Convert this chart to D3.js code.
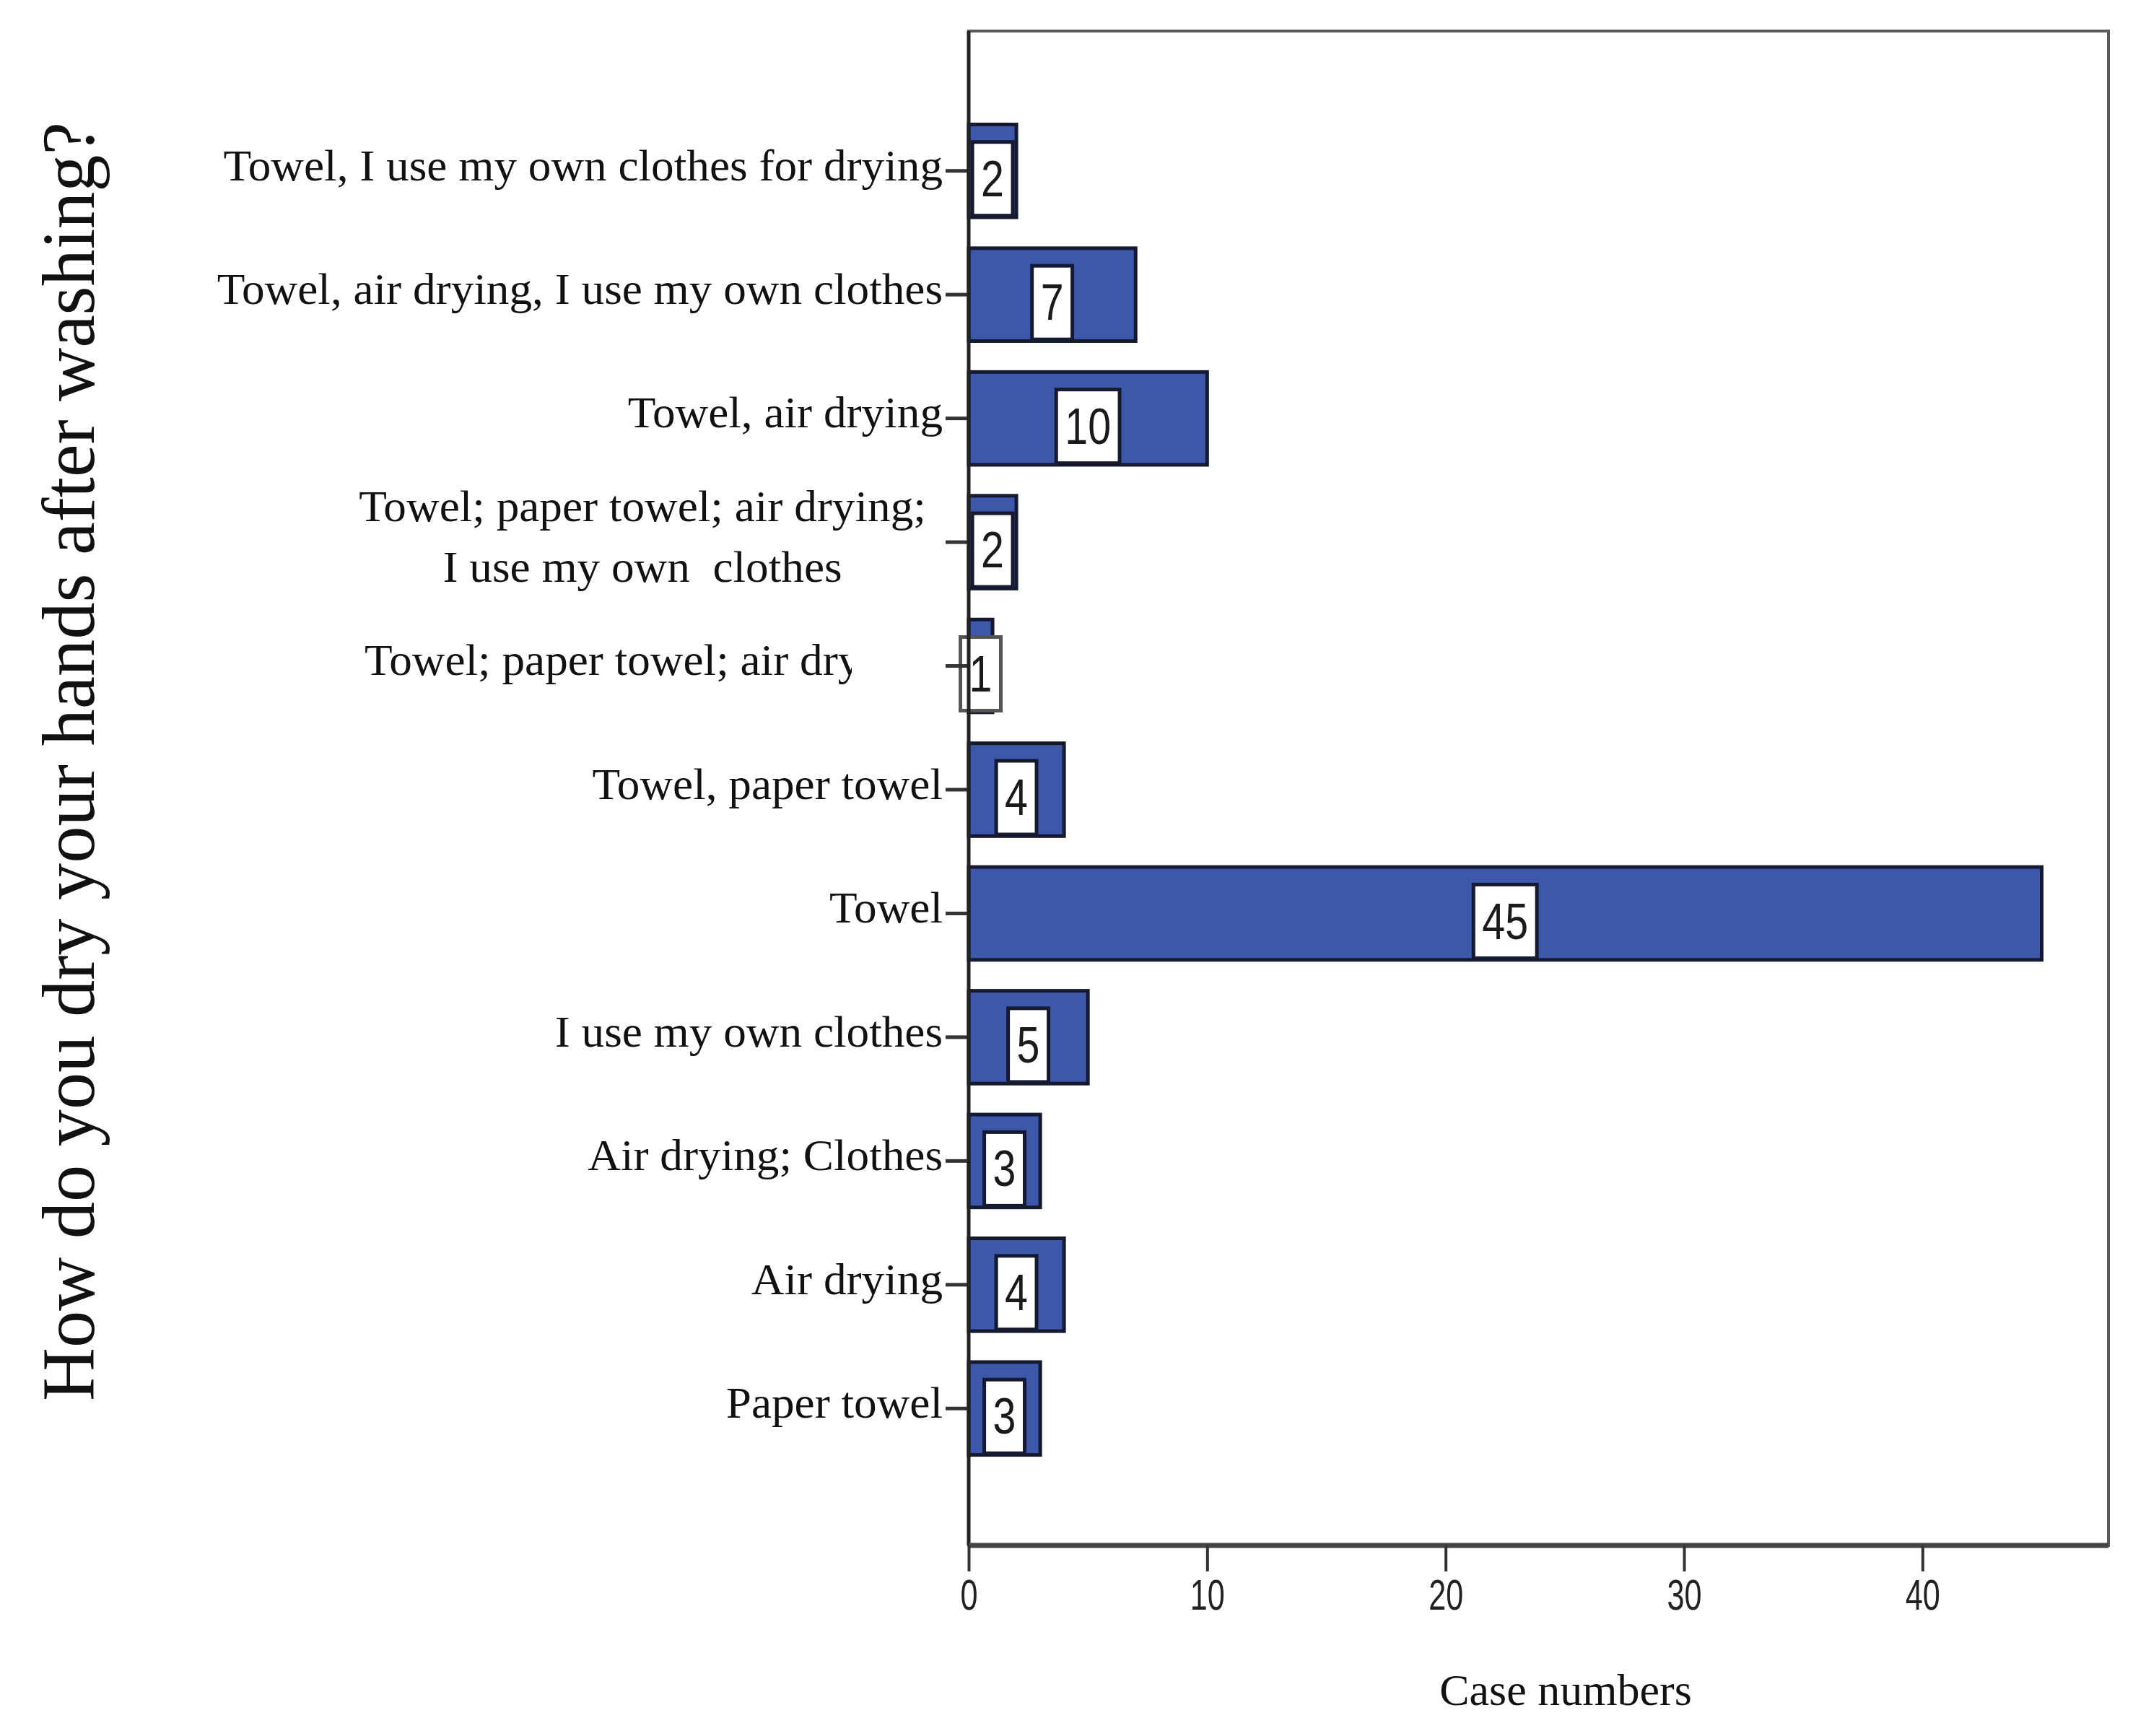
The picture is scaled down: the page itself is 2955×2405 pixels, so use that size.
<!DOCTYPE html>
<html>
<head>
<meta charset="utf-8">
<script src="https://cdn.jsdelivr.net/npm/d3@7"></script>
<style>
  html, body { margin: 0; padding: 0; background: #ffffff; }
  svg { display: block; }
</style>
</head>
<body>
<script>
// ---- data ----
const categories = [
  "Towel, I use my own clothes for drying",
  "Towel, air drying, I use my own clothes",
  "Towel, air drying",
  "Towel; paper towel; air drying; I use my own clothes",
  "Towel; paper towel; air drying",
  "Towel, paper towel",
  "Towel",
  "I use my own clothes",
  "Air drying; Clothes",
  "Air drying",
  "Paper towel"
];
const values = [2, 7, 10, 2, 1, 4, 45, 5, 3, 4, 3];
const labelLines = [
  ["Towel, I use my own clothes for drying"],
  ["Towel, air drying, I use my own clothes"],
  ["Towel, air drying"],
  ["Towel; paper towel; air drying;", "I use my own  clothes"],
  ["Towel; paper towel; air drying"],
  ["Towel, paper towel"],
  ["Towel"],
  ["I use my own clothes"],
  ["Air drying; Clothes"],
  ["Air drying"],
  ["Paper towel"]
];
const xTicks = [0, 10, 20, 30, 40];
const xTitle = "Case numbers";
const yTitle = "How do you dry your hands after washing?";

// ---- layout ----
const W = 2955, H = 2405;
const frame = { left: 1342, right: 2921, top: 43, bottom: 2141 };
const serif = "'Liberation Serif', 'Times New Roman', serif";
const sans = "'Liberation Sans Narrow', 'Liberation Sans', Arial, sans-serif";

const svg = d3.select("body").append("svg").attr("width", W).attr("height", H);

const x = d3.scaleLinear().domain([0, 47.8]).range([frame.left, frame.right]);
const y = d3.scaleBand().domain(categories).range([151, 2037]).paddingInner(0.25).paddingOuter(0.125);

// frame (top/right)
svg.append("rect")
  .attr("x", frame.left).attr("y", frame.top)
  .attr("width", frame.right - frame.left).attr("height", frame.bottom - frame.top)
  .attr("fill", "none").attr("stroke", "#5a5a5a").attr("stroke-width", 4);

// bars
const bars = svg.append("g");
bars.selectAll("rect").data(categories).join("rect")
  .attr("x", x(0))
  .attr("y", d => y(d))
  .attr("width", (d, i) => x(values[i]) - x(0))
  .attr("height", y.bandwidth())
  .attr("fill", "#3d57ab")
  .attr("stroke", "#161a30")
  .attr("stroke-width", 5);

// value labels with boxes
const vl = svg.append("g");
categories.forEach((c, i) => {
  const cx = (x(0) + x(values[i])) / 2;
  const cy = y(c) + y.bandwidth() / 2 + 11;
  const g = vl.append("g").attr("transform", `translate(${cx},${cy})`);
  const rect = g.append("rect");
  const t = g.append("text")
    .attr("text-anchor", "middle")
    .attr("dominant-baseline", "central")
    .attr("font-family", sans)
    .attr("font-size", 70)
    .attr("fill", "#1a1a1a")
    .attr("transform", "scale(0.82,1)")
    .text(values[i]);
  const w = t.node().getComputedTextLength() * 0.82 + 24;
  const h = 102;
  rect.attr("x", -w / 2).attr("y", -h / 2).attr("width", w).attr("height", h)
    .attr("fill", "#ffffff").attr("stroke", values[i] === 1 ? "#555" : "#161a30").attr("stroke-width", 5);
});

// left axis
const yAxis = d3.axisLeft(y).tickSize(32).tickFormat("");
const gy = svg.append("g").attr("transform", `translate(${frame.left},0)`).call(yAxis);
gy.select(".domain").remove();
gy.selectAll(".tick line").attr("stroke", "#333").attr("stroke-width", 5);
svg.append("line")
  .attr("x1", frame.left).attr("x2", frame.left)
  .attr("y1", frame.top).attr("y2", frame.bottom)
  .attr("stroke", "#222").attr("stroke-width", 5);

// category labels
const defs = svg.append("defs");
defs.append("clipPath").attr("id", "clipTrunc").append("rect")
  .attr("x", 0).attr("y", 0).attr("width", 1180).attr("height", H);

const labelRight = 1306;
const labelScale = 1.02;
const cl = svg.append("g");
categories.forEach((c, i) => {
  const lines = labelLines[i];
  const cy = y(c) + y.bandwidth() / 2 - 8;
  if (lines.length === 1) {
    const holder = cl.append("g");
    const isTrunc = (i === 4);
    if (isTrunc) holder.attr("clip-path", "url(#clipTrunc)");
    holder.append("text")
      .attr("transform", `translate(${isTrunc ? 505 : labelRight},${cy}) scale(${labelScale},1)`)
      .attr("text-anchor", isTrunc ? "start" : "end")
      .attr("dominant-baseline", "central")
      .attr("font-family", serif)
      .attr("font-size", 62)
      .attr("fill", "#111")
      .text(lines[0]);
  } else {
    const mid = 890;
    lines.forEach((ln, k) => {
      cl.append("text")
        .attr("transform", `translate(${mid},${cy - 42 + k * 84}) scale(${labelScale},1)`)
        .attr("text-anchor", "middle")
        .attr("dominant-baseline", "central")
        .attr("font-family", serif)
        .attr("font-size", 62)
        .attr("fill", "#111")
        .attr("xml:space", "preserve")
        .style("white-space", "pre")
        .text(ln);
    });
  }
});

// bottom axis
const xAxis = d3.axisBottom(x).tickValues(xTicks).tickSize(36).tickFormat(d3.format("d"));
const gx = svg.append("g").attr("transform", `translate(0,${frame.bottom})`).call(xAxis);
gx.select(".domain").attr("stroke", "#444").attr("stroke-width", 7)
  .attr("d", `M${frame.left},0H${frame.right}`);
gx.selectAll(".tick line").attr("stroke", "#333").attr("stroke-width", 4);
gx.selectAll(".tick text")
  .attr("font-family", sans)
  .attr("font-size", 60)
  .attr("fill", "#222")
  .attr("dy", 0)
  .attr("y", 68)
  .attr("x", 0)
  .attr("dominant-baseline", "central")
  .attr("transform", "scale(0.72,1)");

// axis titles
svg.append("text")
  .attr("x", 2169).attr("y", 2341)
  .attr("text-anchor", "middle")
  .attr("dominant-baseline", "central")
  .attr("font-family", serif)
  .attr("font-size", 62)
  .attr("fill", "#111")
  .text(xTitle);

svg.append("text")
  .attr("transform", `translate(94,1055) rotate(-90)`)
  .attr("text-anchor", "middle")
  .attr("dominant-baseline", "central")
  .attr("font-family", serif)
  .attr("font-size", 104)
  .attr("fill", "#111")
  .attr("textLength", 1772)
  .attr("lengthAdjust", "spacingAndGlyphs")
  .text(yTitle);
</script>
</body>
</html>
